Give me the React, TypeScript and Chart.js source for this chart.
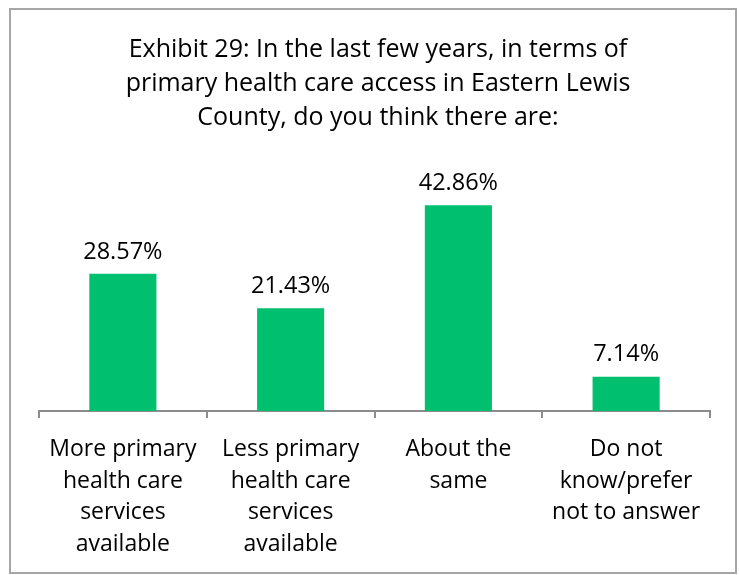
import React, { useEffect, useRef } from "react";
import { Chart, registerables } from "chart.js";

Chart.register(...registerables);

const categories: string[][] = [
  ["More primary", "health care", "services", "available"],
  ["Less primary", "health care", "services", "available"],
  ["About the", "same"],
  ["Do not", "know/prefer", "not to answer"],
];
const values: number[] = [28.57, 21.43, 42.86, 7.14];
const titleLines: string[] = [
  "Exhibit 29: In the last few years, in terms of",
  "primary health care access in Eastern Lewis",
  "County, do you think there are:",
];

const FONT = "'Open Sans', Lato, sans-serif";

export default function App() {
  const ref = useRef<HTMLCanvasElement>(null);
  useEffect(() => {
    if (!ref.current) return;
    const labelPlugin = {
      id: "extras",
      afterDatasetsDraw(chart: any) {
        const ctx = chart.ctx;
        ctx.save();
        ctx.fillStyle = "#000";
        ctx.font = `23.5px ${FONT}`;
        ctx.textAlign = "center";
        ctx.textBaseline = "middle";
        const meta = chart.getDatasetMeta(0);
        meta.data.forEach((bar: any, i: number) => {
          ctx.fillText(values[i].toFixed(2) + "%", bar.x, bar.y - 22);
        });
        ctx.font = `25px ${FONT}`;
        titleLines.forEach((t, i) => {
          ctx.fillText(t, 378, 50 + i * 34);
        });
        ctx.restore();
      },
    };
    const chart = new Chart(ref.current, {
      type: "bar",
      data: {
        labels: categories,
        datasets: [
          {
            data: values,
            backgroundColor: "#00BF6F",
            barPercentage: 0.4,
            categoryPercentage: 1,
          },
        ],
      },
      options: {
        responsive: false,
        animation: false,
        layout: { padding: { left: 39, right: 29, top: 171, bottom: 0 } },
        plugins: { legend: { display: false }, tooltip: { enabled: false }, title: { display: false } },
        scales: {
          y: { display: false, min: 0, max: 50 },
          x: {
            afterFit(scale: any) {
              scale.height = 164;
            },
            border: { display: true, color: "#8c8c8c", width: 2 },
            grid: {
              drawOnChartArea: false,
              drawTicks: true,
              tickLength: 7,
              color: "#8c8c8c",
              lineWidth: 2,
              offset: true,
            },
            ticks: {
              color: "#000",
              font: { family: FONT, size: 23, lineHeight: 1.39 },
              padding: 15,
              maxRotation: 0,
              autoSkip: false,
            },
          },
        },
      },
      plugins: [labelPlugin],
    });
    return () => chart.destroy();
  }, []);
  return (
    <div style={{ position: "fixed", left: 0, top: 0, width: 739, height: 575, background: "#fff" }}>
      <canvas ref={ref} width={739} height={575} style={{ position: "absolute", left: 0, top: 0 }} />
      <div
        style={{
          position: "absolute",
          left: 9,
          top: 8,
          width: 728,
          height: 566,
          border: "2px solid #a6a6a6",
          boxSizing: "border-box",
          pointerEvents: "none",
        }}
      />
    </div>
  );
}
